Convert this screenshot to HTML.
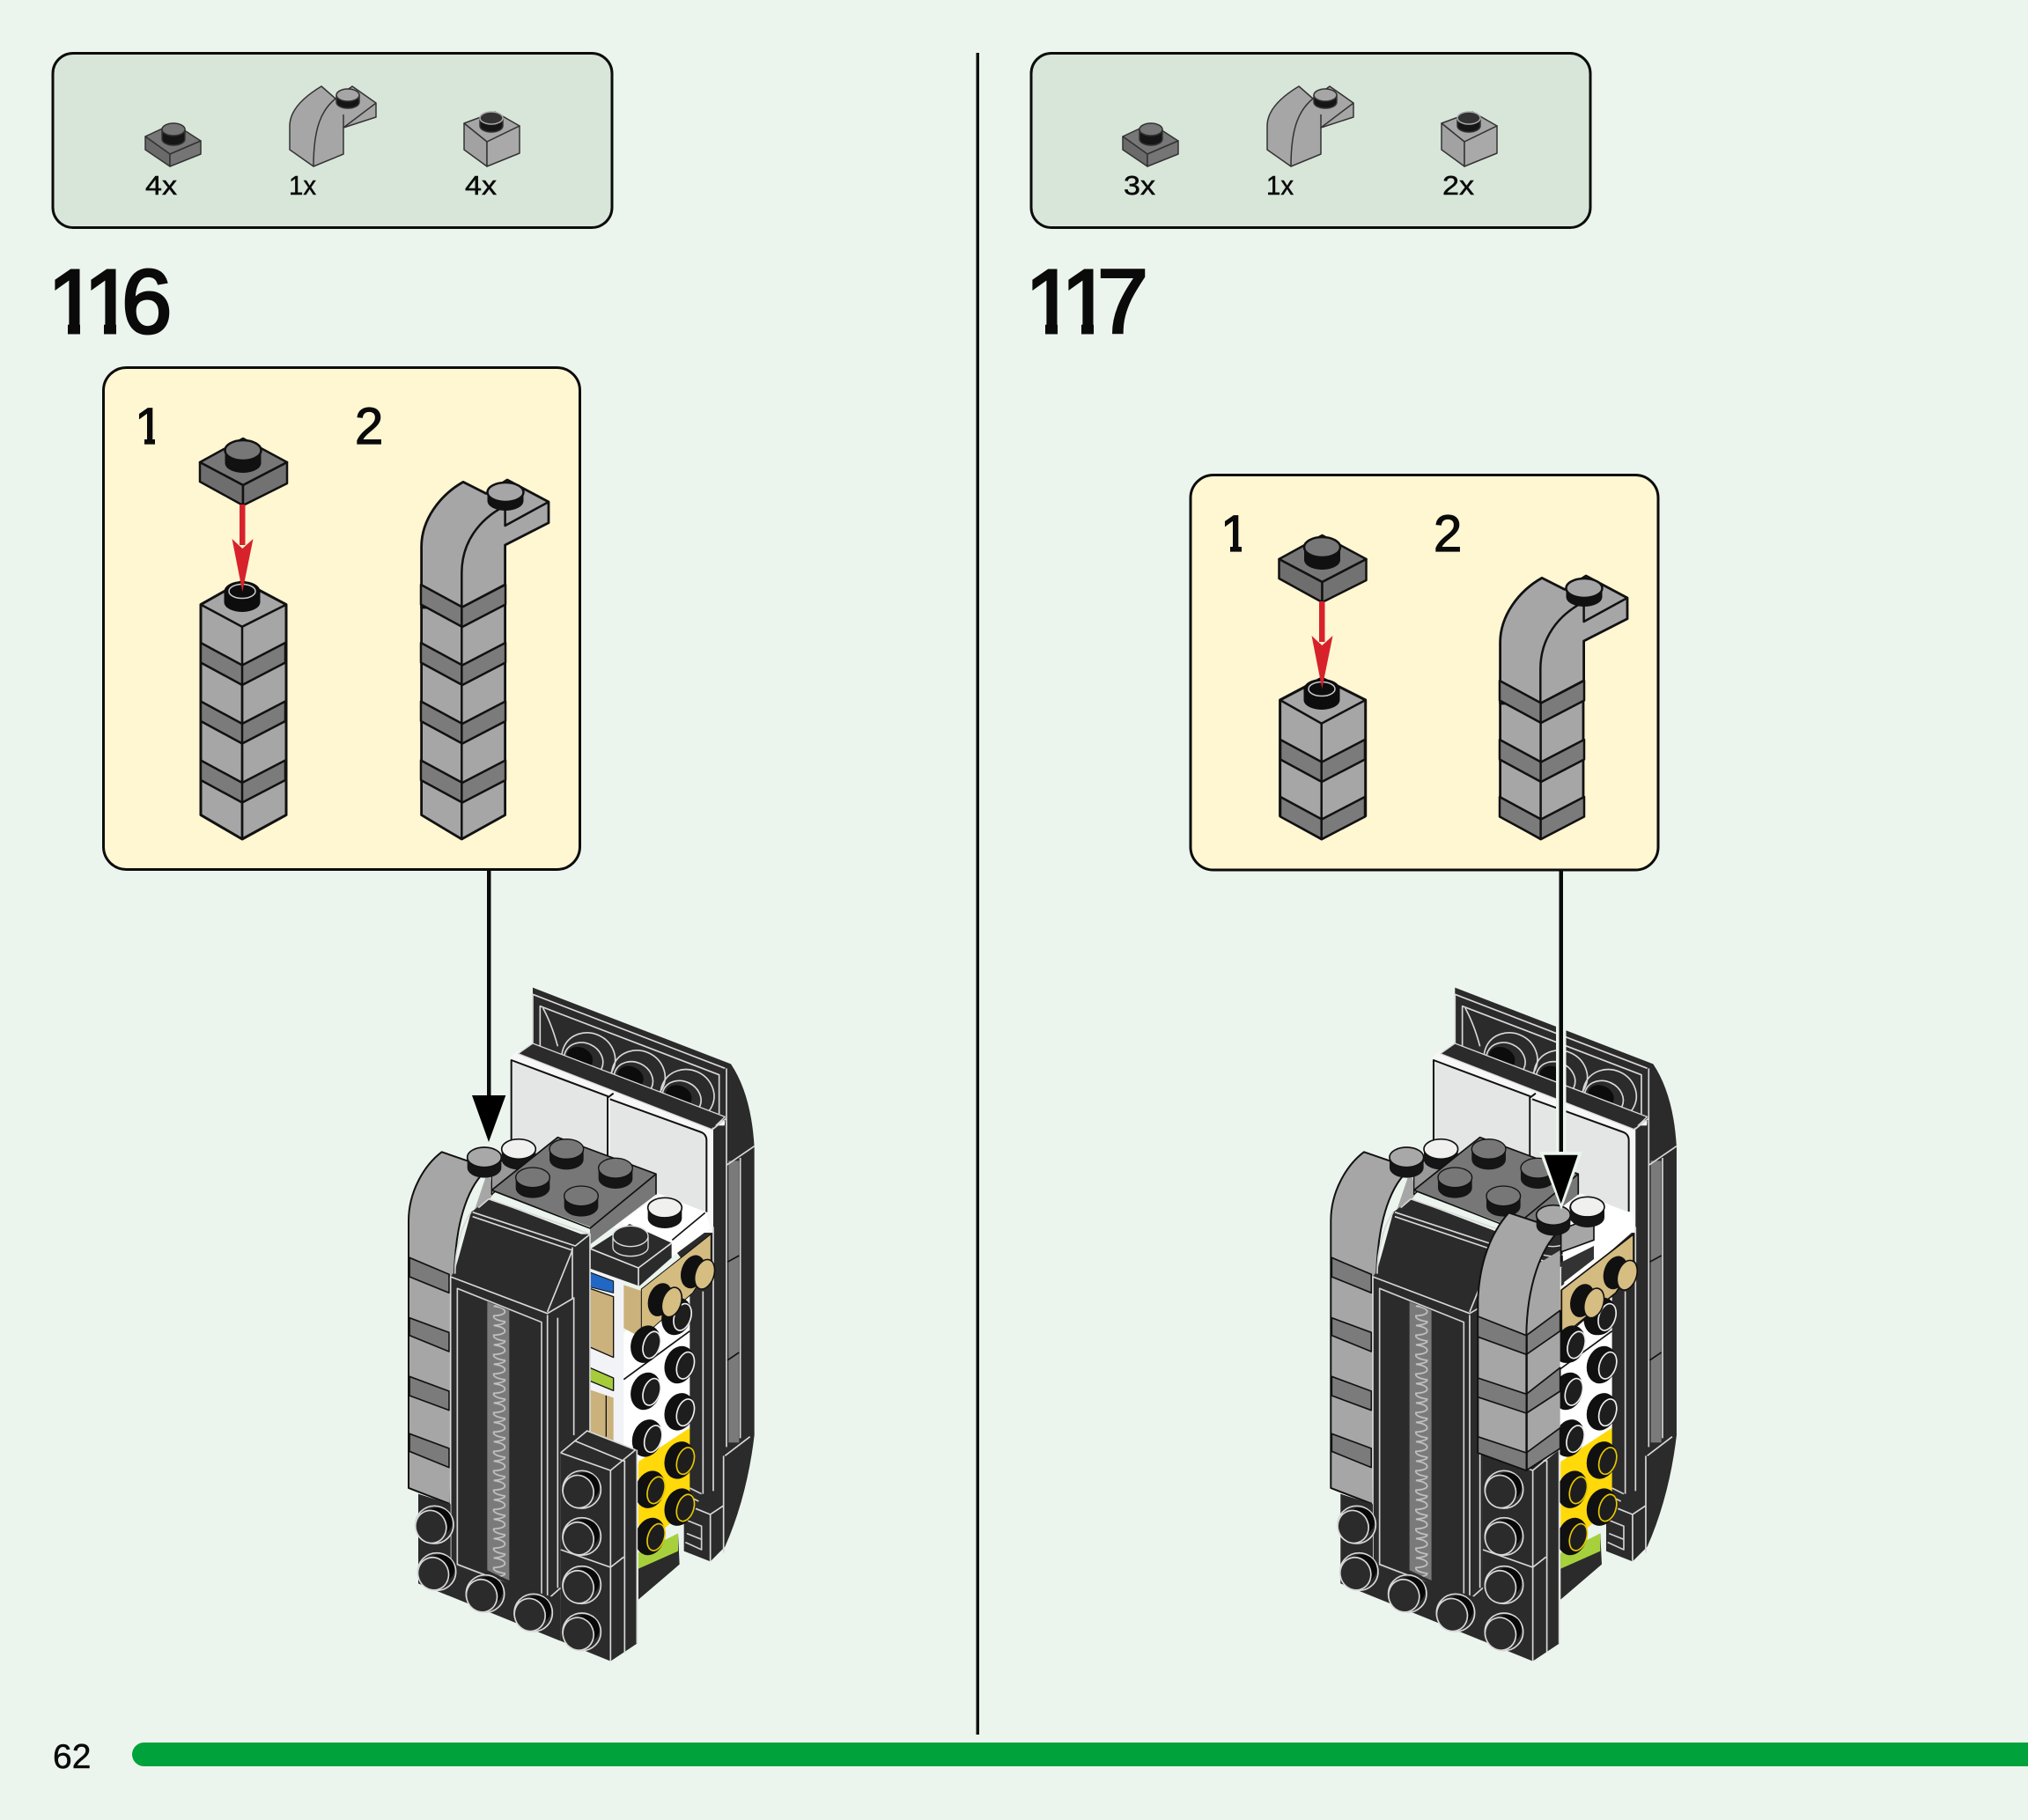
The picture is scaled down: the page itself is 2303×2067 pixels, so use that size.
<!DOCTYPE html>
<html><head><meta charset="utf-8"><style>
html,body{margin:0;padding:0;background:#ebf5ed;width:2303px;height:2067px;overflow:hidden}
svg{display:block}
text{font-family:"Liberation Sans",sans-serif;fill:#0a0a0a}
</style></head><body>
<svg width="2303" height="2067" viewBox="0 0 2303 2067" xmlns="http://www.w3.org/2000/svg">
<defs>
<clipPath id="c1a"><path d="M62 290H92V366H91V385H77V366H62Z"/></clipPath>
<clipPath id="c1b"><path d="M103 290H133V366H132V385H118V366H103Z"/></clipPath>
<clipPath id="c1c"><path d="M1172 290H1202V366H1201V385H1187V366H1172Z"/></clipPath>
<clipPath id="c1d"><path d="M1213 290H1243V366H1242V385H1228V366H1213Z"/></clipPath>
<clipPath id="c1e"><path d="M150 450H185V497H176V510H164V497H150Z"/></clipPath>
<clipPath id="c1f"><path d="M1383 570H1420V619H1410V632H1397V619H1383Z"/></clipPath>
<pattern id="zz" patternUnits="userSpaceOnUse" x="340" y="1150" width="80" height="66">
<path d="M22 0 Q62 6 60 20 Q58 31 22 33 Q18 46 60 53 Q62 62 22 66" fill="none" stroke="#c4c4c4" stroke-width="5"/>
</pattern>
<polygon id="band" points="0,0 47,25.5 96,0 96,22.5 47,48 0,22.5" fill="#7b7b7b" stroke="#111" stroke-width="2.5" stroke-linejoin="round"/>
<g id="blk"><ellipse cx="0" cy="0" rx="50" ry="65" transform="rotate(18)" fill="#101010"/><ellipse cx="20" cy="-4" rx="28" ry="47" transform="rotate(18)" fill="#1e1e1e" stroke="#eee" stroke-width="5"/></g>
<g id="ylw"><ellipse cx="0" cy="0" rx="50" ry="65" transform="rotate(18)" fill="#101010"/><ellipse cx="20" cy="-4" rx="28" ry="47" transform="rotate(18)" fill="#1e1e1e" stroke="#e8c800" stroke-width="5"/></g>
<g id="tan"><ellipse cx="-22" cy="0" rx="40" ry="58" transform="rotate(18)" fill="#101010"/><ellipse cx="18" cy="-4" rx="32" ry="52" transform="rotate(18)" fill="#d6bd82" stroke="#111" stroke-width="5"/></g>
<g id="ws"><ellipse rx="65" ry="64" fill="#2b2b2b" stroke="#d8d8d8" stroke-width="5"/><ellipse cx="10" cy="-10" rx="50" ry="48" fill="#080808"/><ellipse cx="-12" cy="7" rx="52" ry="56" transform="rotate(-20 -12 7)" fill="#2b2b2b" stroke="#d8d8d8" stroke-width="5"/></g>
<g id="gs"><path d="M-58 0V36A58 34 0 0 0 58 36V0Z" fill="#151515"/><ellipse rx="58" ry="34" fill="#777" stroke="#111" stroke-width="4"/></g>
<g id="wst"><path d="M-58 0V36A58 34 0 0 0 58 36V0Z" fill="#151515"/><ellipse rx="58" ry="34" fill="#f0f0ee" stroke="#111" stroke-width="5"/></g>
<g id="lst"><path d="M-58 0V36A58 34 0 0 0 58 36V0Z" fill="#151515"/><ellipse rx="58" ry="34" fill="#a8a8a8" stroke="#111" stroke-width="5"/></g>

<g id="model" stroke-linejoin="round">
 <!-- back wall -->
 <path d="M495 65L1170 325Q1240 430 1250 610L1250 1590Q1225 1800 1150 1970L1100 2020L1010 1985L1010 1000L495 300Z" fill="#2b2b2b"/>
 <g fill="none" stroke="#d8d8d8" stroke-width="5">
  <path d="M495 260V88L1150 340"/><path d="M520 265V128L1130 362V495"/>
  <path d="M530 135Q560 190 580 265"/>
  <ellipse cx="685" cy="305" rx="92" ry="85" transform="rotate(25 685 305)"/>
  <ellipse cx="855" cy="365" rx="92" ry="85" transform="rotate(25 855 365)"/>
  <ellipse cx="1022" cy="430" rx="92" ry="85" transform="rotate(25 1022 430)"/>
  <ellipse cx="668" cy="312" rx="68" ry="58" transform="rotate(25 668 312)"/>
  <ellipse cx="838" cy="377" rx="68" ry="58" transform="rotate(25 838 377)"/>
  <ellipse cx="1002" cy="442" rx="68" ry="58" transform="rotate(25 1002 442)"/>
 </g>
 <ellipse cx="655" cy="305" rx="46" ry="36" transform="rotate(25 655 305)" fill="#0c0c0c"/>
 <ellipse cx="828" cy="370" rx="46" ry="36" transform="rotate(25 828 370)" fill="#0c0c0c"/>
 <ellipse cx="992" cy="435" rx="46" ry="36" transform="rotate(25 992 435)" fill="#0c0c0c"/>
 <!-- white under-ledge and panels -->
 <polygon points="420,300 445,280 1150,520 1110,900 800,900 420,640" fill="#f6f7f6"/>
 <polygon points="445,290 495,255 1150,505 1105,548" fill="#2b2b2b" stroke="#d8d8d8" stroke-width="4"/>
 <path d="M424 315L750 435V640H424Z" fill="#e4e6e5"/>
 <path d="M758 447L1070 560Q1085 570 1085 585V830L758 700Z" fill="#e4e6e5"/>
 <path d="M422 640V312L750 435V640M750 440L770 425M758 445L1070 558Q1087 566 1087 585V830" fill="none" stroke="#111" stroke-width="6"/>
 <!-- right column -->
 <rect x="1110" y="535" width="45" height="1300" fill="#2b2b2b"/>
 <rect x="1162" y="655" width="36" height="960" fill="#7a7a7a"/>
 <path d="M1155 340V670L1250 605M1105 550L1155 510M1155 670V1630M1202 645V1600M1110 880V1780M1075 1100V1790M1150 1660L1235 1595M1145 1660V1990M1050 1840L1100 1860L1145 1830M1100 1860V2020" fill="none" stroke="#d8d8d8" stroke-width="5"/>
 <path d="M1158 1000L1198 978M1158 1335L1198 1308" stroke="#111" stroke-width="5"/>
 <path d="M1030 1770L1070 1790M1030 1800L1060 1815M1020 1880L1070 1900V1980L1015 1955M1020 1925L1070 1945" fill="none" stroke="#d0d0d0" stroke-width="5"/>
 <!-- centre slit -->
 <rect x="685" y="1020" width="120" height="620" fill="#f2f3f6"/>
 <polygon points="690,1035 770,1065 770,1105 690,1085" fill="#2168c4" stroke="#111" stroke-width="3"/>
 <polygon points="690,1090 770,1118 770,1325 690,1290" fill="#cbb27c" stroke="#111" stroke-width="4"/>
 <polygon points="690,1360 770,1395 770,1438 690,1405" fill="#a6cc3c" stroke="#111" stroke-width="4"/>
 <polygon points="690,1435 770,1462 770,1610 690,1580" fill="#cbb27c"/>
 <path d="M745 1455V1595" stroke="#111" stroke-width="4"/>
 <!-- studded column -->
 <polygon points="805,1240 1030,1100 1030,1570 855,1690 805,1650" fill="#fff"/>
 <path d="M805 1400L1030 1235" stroke="#111" stroke-width="5"/>
 <polygon points="855,1680 1030,1565 1030,1810 1010,1850 855,1985" fill="#ffd90a"/>
 <polygon points="855,1995 990,1925 995,2030 855,2150" fill="#2b2b2b"/>
 <polygon points="855,1990 990,1925 990,1985 855,2045" fill="#a6d13c"/>
 <polygon points="805,1078 865,1098 865,1258 805,1225" fill="#cbb27c"/>
 <polygon points="865,1092 1102,905 1102,1005 1040,1105 865,1258" fill="#d4bb80" stroke="#111" stroke-width="3"/>
 <use href="#blk" x="985" y="1185"/>
 <use href="#blk" x="880" y="1280"/><use href="#blk" x="995" y="1350"/><use href="#blk" x="880" y="1440"/><use href="#blk" x="995" y="1510"/><use href="#blk" x="885" y="1600"/>
 <use href="#ylw" x="995" y="1675"/><use href="#ylw" x="895" y="1775"/><use href="#ylw" x="995" y="1835"/><use href="#ylw" x="895" y="1935"/>
 <use href="#tan" x="950" y="1135"/><use href="#tan" x="1062" y="1040"/>
 <!-- white plate and small dark plate -->
 <polygon points="800,860 930,770 1085,830 1100,885 965,985 850,1000" fill="#fff"/>
 <path d="M970 925L1082 832" stroke="#111" stroke-width="5"/>
 <use href="#wst" x="945" y="815"/>
 <polygon points="692,955 825,870 968,935 968,985 858,1082 690,1022" fill="#2b2b2b"/>
 <path d="M692 955L855 1020L968 935M855 1020V1082" fill="none" stroke="#ddd" stroke-width="5"/>
 <path d="M768 915V950A60 30 0 0 0 888 950V915" fill="#2b2b2b" stroke="#ddd" stroke-width="4"/>
 <ellipse cx="828" cy="912" rx="60" ry="35" fill="#2b2b2b" stroke="#ddd" stroke-width="4"/>
 <!-- left column -->
 <polygon points="345,680 360,770 345,790 285,830 230,1040 220,1050" fill="#a6a6a6"/>
 <path d="M72 1770V860C72 760 125 670 185 625L345 680C280 730 232 850 228 1040L215 1825Z" fill="#a6a6a6" stroke="#111" stroke-width="6"/>
 <path d="M75 985L210 1042V1105L75 1050Z M75 1190L210 1240V1305L75 1250Z M75 1390L210 1440V1505L75 1455Z M75 1585L210 1635V1700L75 1645Z" fill="#7b7b7b" stroke="#111" stroke-width="5"/>
 <!-- grey 2x2 plate -->
 <polygon points="355,700 400,640 510,640 440,700 355,770" fill="#999" stroke="#111" stroke-width="4"/>
 <use href="#lst" x="330" y="643"/><use href="#wst" x="447" y="615"/>
 <polygon points="355,755 580,575 915,700 915,770 690,940 690,880" fill="#777"/>
 <path d="M355 755L580 575L915 700V770M355 755L690 885L915 700" fill="none" stroke="#111" stroke-width="5"/>
 <use href="#gs" x="610" y="615"/><use href="#gs" x="495" y="712"/><use href="#gs" x="777" y="680"/><use href="#gs" x="660" y="775"/>
 <!-- front piece -->
 <polygon points="345,785 660,905 690,905 690,1600 590,1650 590,2290 580,2150 215,2030 215,1050 230,1030 285,830" fill="#2b2b2b"/>
 <path d="M285 830C250 880 230 960 230 1040M310 815L345 785L690 905L640 945L290 830M290 845L630 960L545 1170M630 950V1125L545 1175L215 1050V2040M545 1180V2150L590 2110M580 1190V2110M635 1120V1590M690 905V1580" fill="none" stroke="#d8d8d8" stroke-width="5"/>
 <polygon points="238,1090 525,1205 525,2140 238,2030" fill="#2b2b2b" stroke="#d0d0d0" stroke-width="5"/>
 <polygon points="340,1135 415,1165 415,2085 340,2050" fill="#7a7a7a"/>
 <polygon points="340,1135 415,1165 415,2085 340,2050" fill="url(#zz)"/>
 <path d="M238 2030L525 2140" stroke="#d0d0d0" stroke-width="5"/>
 <!-- base -->
 <polygon points="105,1790 215,1825 215,2030 590,2150 590,2290 760,2360 105,2095" fill="#2b2b2b"/>
 <polygon points="590,1650 680,1575 850,1640 850,2300 760,2360 590,2290" fill="#2b2b2b"/>
 <path d="M590 1650L680 1575L845 1640L760 1710L590 1650M640 1610L810 1680M760 1710V2360M808 1675V2330M850 1640V2300M590 1980L760 2040L805 2005" fill="none" stroke="#d8d8d8" stroke-width="5"/>
 <use href="#ws" x="160" y="1895"/><use href="#ws" x="168" y="2055"/><use href="#ws" x="333" y="2130"/><use href="#ws" x="497" y="2195"/>
 <use href="#ws" x="662" y="1775"/><use href="#ws" x="662" y="1935"/><use href="#ws" x="662" y="2100"/><use href="#ws" x="662" y="2260"/>
</g>

<g id="parts" stroke="#333" stroke-width="1.5" stroke-linejoin="round">
 <polygon points="165,155 197,140 228,160 193,175" fill="#777"/>
 <polygon points="165,155 193,175 193,189 165,170" fill="#6a6a6a"/>
 <polygon points="193,175 228,160 228,175 193,189" fill="#757575"/>
 <path d="M184 147V158A13 7 0 0 0 210 158V147Z" fill="#151515"/>
 <ellipse cx="197" cy="147" rx="13" ry="7" fill="#777"/>
 <path d="M365 98C345 110 329 125 329 143V170L356 189L390 175V145L427 133V117L400 98L381 112Z" fill="#a6a6a6"/>
 <path d="M381 112C365 125 356 145 356 189M390 130V145L427 117" fill="none"/>
 <path d="M382 108V116A13 7 0 0 0 408 116V108Z" fill="#151515"/>
 <ellipse cx="395" cy="108" rx="13" ry="7" fill="#a6a6a6"/>
 <polygon points="527,140 562,127 590,143 553,161" fill="#a6a6a6"/>
 <polygon points="527,140 553,161 553,189 527,170" fill="#a2a2a2"/>
 <polygon points="553,161 590,143 590,174 553,189" fill="#a9a9a9"/>
 <path d="M545 134V143A13 7 0 0 0 571 143V134Z" fill="#151515"/>
 <ellipse cx="558" cy="134" rx="13" ry="7" fill="#333" stroke="#aaa"/>
</g>

<g id="plate">
 <polygon points="227,525 276,498 326,525 276,551" fill="#777" stroke="#111" stroke-width="2.5" stroke-linejoin="round"/>
 <polygon points="227,525 276,551 276,574 227,547" fill="#6e6e6e" stroke="#111" stroke-width="2.5" stroke-linejoin="round"/>
 <polygon points="276,551 326,525 326,549 276,574" fill="#727272" stroke="#111" stroke-width="2.5" stroke-linejoin="round"/>
 <path d="M255.500 512V526A20.500 11 0 0 0 296.500 526V512Z" fill="#111"/>
 <ellipse cx="276" cy="511.500" rx="20.500" ry="11.500" fill="#777" stroke="#111" stroke-width="2.500"/>
</g>
<g id="hstud">
 <path d="M254.500 672V684A20.500 11 0 0 0 295.500 684V672Z" fill="#0d0d0d"/>
 <ellipse cx="275" cy="671.500" rx="20.500" ry="11.500" fill="#0d0d0d"/>
 <ellipse cx="275" cy="671.500" rx="15" ry="8" fill="#0d0d0d" stroke="#ccc" stroke-width="1.500"/>
</g>
<g id="arrow">
 <rect x="272" y="573" width="6.500" height="46" fill="#d7222c"/>
 <polygon points="263.500,612 275.300,623 287.500,612 275.300,672" fill="#d7222c"/>
</g>
<g id="archcap" stroke-linejoin="round">
 <path d="M478.600 690V620.800C478.600 590 500 562 526 547.400L552 560.500L576 545L623 570V593.700L573.600 619V664L524.300 690Z" fill="#a6a6a6" stroke="#111" stroke-width="2.800"/>
 <path d="M571.400 575.600C545 590 524.300 615 524.300 651V690" fill="none" stroke="#111" stroke-width="2.500"/>
 <path d="M573.600 578V597L623 570" fill="none" stroke="#111" stroke-width="2.500"/>
 <path d="M553.500 560V569A20.500 11 0 0 0 594.500 569V560Z" fill="#111"/>
 <ellipse cx="574" cy="559" rx="20.500" ry="11" fill="#a6a6a6" stroke="#111" stroke-width="2.500"/>
</g>
</defs>

<rect width="2303" height="2067" fill="#ebf5ed"/>
<rect x="1108.500" y="60" width="3.500" height="1910" fill="#111"/>

<!-- parts panels -->
<rect x="60" y="60.500" width="635" height="198" rx="23" fill="#d8e6da" stroke="#0c0c0c" stroke-width="3"/>
<rect x="1171" y="60.500" width="635" height="198" rx="23" fill="#d8e6da" stroke="#0c0c0c" stroke-width="3"/>
<use href="#parts"/><use href="#parts" x="1110"/>
<g font-size="31" stroke="#0a0a0a" stroke-width=".5">
<text x="165" y="221" textLength="36" lengthAdjust="spacingAndGlyphs">4x</text>
<text x="328" y="221" textLength="31" lengthAdjust="spacingAndGlyphs">1x</text>
<text x="528" y="221" textLength="36" lengthAdjust="spacingAndGlyphs">4x</text>
<text x="1276" y="221" textLength="36" lengthAdjust="spacingAndGlyphs">3x</text>
<text x="1438" y="221" textLength="31" lengthAdjust="spacingAndGlyphs">1x</text>
<text x="1638" y="221" textLength="36" lengthAdjust="spacingAndGlyphs">2x</text>
</g>
<g font-size="103" stroke="#0a0a0a" stroke-width="3">
<text x="54" y="378" clip-path="url(#c1a)">1</text><text x="95" y="378" clip-path="url(#c1b)">1</text><text x="138" y="378">6</text>
<text x="1164" y="378" clip-path="url(#c1c)">1</text><text x="1205" y="378" clip-path="url(#c1d)">1</text><text x="1246" y="378" textLength="58" lengthAdjust="spacingAndGlyphs">7</text>
</g>

<!-- yellow panels -->
<rect x="117.500" y="417.500" width="541" height="570" rx="26" fill="#fff6d2" stroke="#0c0c0c" stroke-width="3"/>
<rect x="1352" y="539.500" width="531" height="448.500" rx="26" fill="#fff6d2" stroke="#0c0c0c" stroke-width="3"/>
<g font-size="58" stroke="#0a0a0a" stroke-width="1.200">
<text x="153" y="504" clip-path="url(#c1e)">1</text><text x="403" y="504">2</text>
<text x="1386" y="626" clip-path="url(#c1f)">1</text><text x="1628" y="626">2</text>
</g>

<!-- connector -->
<rect x="553" y="989" width="4.500" height="258" fill="#0a0a0a"/>

<!-- left callout towers -->
<use href="#plate"/>
<polygon points="275,660 325,686.600 325,925.600 275,953 228,925.600 228,686.600" fill="#a6a6a6" stroke="#111" stroke-width="3" stroke-linejoin="round"/>
<path d="M228 686.600L275 711.800L325 686.600M275 711.800V953" fill="none" stroke="#111" stroke-width="2.500"/>
<use href="#band" transform="translate(228 730)"/><use href="#band" transform="translate(228 796.500)"/><use href="#band" transform="translate(228 863.500)"/>
<path d="M275 755V953" stroke="#111" stroke-width="2.500"/>
<use href="#hstud"/>
<use href="#arrow"/>
<polygon points="478.600,664 524.300,690 573.600,664 573.600,925.600 524.300,953 478.600,925.600" fill="#a6a6a6" stroke="#111" stroke-width="2.800" stroke-linejoin="round"/>
<use href="#archcap"/>
<use href="#band" transform="translate(478 664)"/><use href="#band" transform="translate(478 730)"/><use href="#band" transform="translate(478 796.500)"/><use href="#band" transform="translate(478 863.500)"/>
<path d="M524.300 690V953" stroke="#111" stroke-width="2.500"/>

<!-- right callout towers -->
<g transform="translate(1225.500 110)"><use href="#plate"/></g>
<polygon points="1501,770 1550.700,795 1550.700,926.700 1500.700,953 1453.600,926.700 1453.600,795" fill="#a6a6a6" stroke="#111" stroke-width="3" stroke-linejoin="round"/>
<path d="M1453.600 795L1500.700 821.700L1550.700 795" fill="none" stroke="#111" stroke-width="2.500"/>
<use href="#band" transform="translate(1454 840)"/><use href="#band" transform="translate(1454 905)"/>
<path d="M1500.700 821V953" stroke="#111" stroke-width="2.500"/>
<g transform="translate(1226 111)"><use href="#hstud"/></g>
<g transform="translate(1226 110)"><use href="#arrow"/></g>
<polygon points="1703.600,773 1749.600,798 1798,773 1798,926.700 1749.600,953 1703.600,926.700" fill="#a6a6a6" stroke="#111" stroke-width="2.800" stroke-linejoin="round"/>
<g transform="translate(1225 109)"><use href="#archcap"/></g>
<use href="#band" transform="translate(1703 773)"/><use href="#band" transform="translate(1703 840)"/><use href="#band" transform="translate(1703 905)"/>
<path d="M1749.600 798V953" stroke="#111" stroke-width="2.500"/>

<!-- models -->
<g transform="translate(440 1100) scale(.33333)"><use href="#model"/></g>
<g transform="translate(1487.300 1100) scale(.33333)"><use href="#model"/></g>

<!-- left arrow head -->
<polygon points="536,1244 574.300,1244 555,1297" fill="#000"/>

<!-- right model overlay (second arch on the front) -->
<g transform="translate(1490 1100) scale(.33333)" stroke-linejoin="round">
 <polygon points="850,880 965,810 1090,830 1100,890 860,1100" fill="#fff"/>
 <polygon points="850,1000 960,945 960,990 850,1075" fill="#333"/>
 <polygon points="850,1095 1095,905 1095,1005 1035,1105 850,1255" fill="#d4bb80" stroke="#111" stroke-width="5"/>
 <use href="#blk" x="985" y="1185"/><use href="#blk" x="880" y="1280"/>
 <use href="#tan" x="942" y="1138"/><use href="#tan" x="1055" y="1043"/>
 <polygon points="845,960 845,1640 730,1710 565,1650 565,1130" fill="#a6a6a6"/>
 <path d="M848 1000V890L960 845V925L850 965" fill="#a6a6a6" stroke="#111" stroke-width="5"/>
 <path d="M565 1650V1130C570 1000 610 900 670 832L845 890C780 950 732 1080 730 1250V1710L565 1650" fill="#a6a6a6" stroke="#111" stroke-width="6"/>
 <path d="M565 1185L730 1250V1315L565 1255Z M565 1395L730 1450V1515L565 1460Z M565 1595L730 1650V1710L565 1650Z" fill="#7b7b7b" stroke="#111" stroke-width="5"/>
 <path d="M730 1250L845 1165V1235L730 1315Z M730 1450L845 1360V1440L730 1515Z M730 1650L845 1565V1635L730 1710Z" fill="#7f7f7f" stroke="#111" stroke-width="5"/>
 <path d="M732 1250V1710" stroke="#111" stroke-width="5"/>
 <use href="#lst" x="822" y="840"/><use href="#wst" x="938" y="812"/>
</g>
<rect x="1767" y="1155" width="11.500" height="190" fill="#ebf5ed"/>
<rect x="1770.500" y="989" width="4.500" height="326" fill="#0a0a0a"/>
<polygon points="1748,1308 1797,1308 1773,1374" fill="#ebf5ed"/>
<polygon points="1753.300,1311.700 1791.700,1311.700 1772.700,1367" fill="#000"/>

<!-- footer -->
<text x="60" y="2008" font-size="39" stroke="#0a0a0a" stroke-width=".5">62</text>
<path d="M2303 1979H163.500A13.500 13.500 0 0 0 163.500 2006H2303Z" fill="#00a33b"/>
</svg>
</body></html>
